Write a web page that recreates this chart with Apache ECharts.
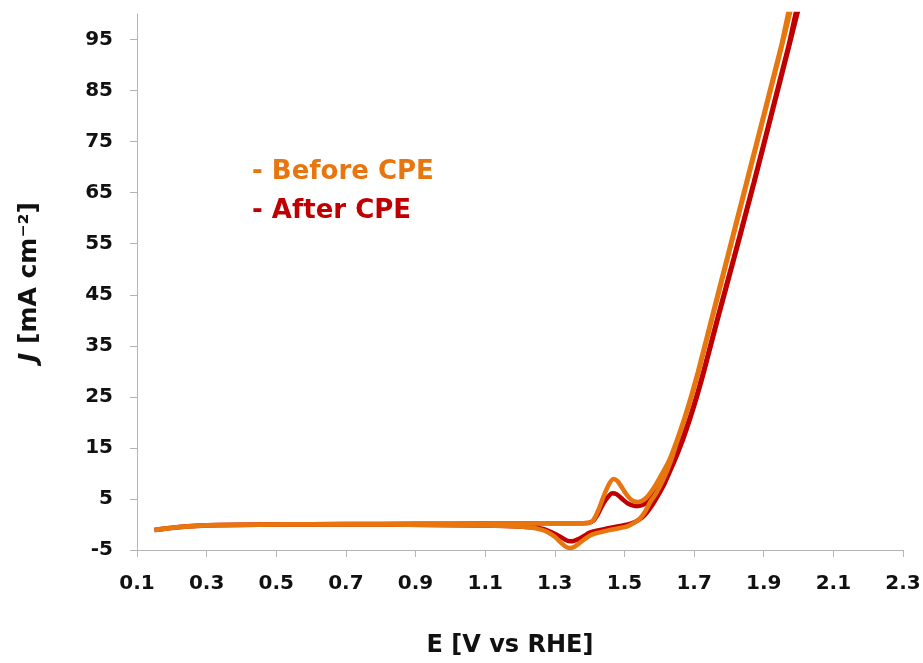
<!DOCTYPE html>
<html>
<head>
<meta charset="utf-8">
<script src="https://cdn.jsdelivr.net/npm/echarts@6/dist/echarts.min.js"></script>
<style>
  html, body { margin: 0; padding: 0; background: #fff; }
  #chart { width: 923px; height: 663px; }
</style>
</head>
<body>
<div id="chart"></div>
<script>
// CV curves, [E (V vs RHE), J (mA cm-2)], forward scan then reverse scan
const beforeCPE = [
  [0.15,-1.1],[0.18,-0.8],[0.22,-0.5],[0.27,-0.25],[0.33,-0.1],[0.45,0],[0.6,0.05],[0.8,0.1],
  [1.0,0.15],[1.2,0.2],[1.35,0.25],[1.395,0.3],[1.41,0.8],[1.425,2.8],[1.44,5.5],[1.455,7.8],
  [1.468,8.9],[1.48,8.5],[1.495,7.0],[1.51,5.5],[1.525,4.6],[1.54,4.4],[1.555,4.8],[1.57,5.8],
  [1.59,7.8],[1.61,10.2],[1.63,12.8],[1.65,16.4],[1.67,20.4],[1.69,24.8],[1.70,27.2],[1.711,29.9],
  [1.75,40.3],[1.795,52.3],[1.85,67],[1.9,80.3],[1.95,93.7],[1.988,103.8],
  [1.99,103.8],[1.952,93.7],[1.902,80.3],[1.852,67],[1.797,52.3],[1.752,40.3],[1.713,29.9],
  [1.702,27.2],[1.692,24.8],[1.672,20.4],[1.652,16.4],[1.632,12.2],[1.61,8.6],[1.59,6.0],
  [1.575,4.5],[1.56,2.6],[1.545,1.2],[1.53,0.4],
  [1.51,-0.3],[1.48,-0.8],[1.45,-1.2],[1.42,-1.7],[1.4,-2.2],[1.385,-2.9],[1.37,-3.7],
  [1.355,-4.4],[1.343,-4.6],[1.33,-4.3],[1.315,-3.4],[1.3,-2.4],[1.28,-1.5],[1.26,-1.0],
  [1.23,-0.6],[1.18,-0.35],[1.1,-0.2],[0.95,-0.1],[0.8,0],[0.6,0],[0.45,-0.05],[0.33,-0.15],
  [0.27,-0.3],[0.22,-0.55],[0.18,-0.85],[0.15,-1.1]
];
const afterCPE = [
  [0.15,-1.1],[0.18,-0.8],[0.22,-0.5],[0.27,-0.25],[0.33,-0.1],[0.45,0],[0.6,0.05],[0.8,0.1],
  [1.0,0.15],[1.2,0.2],[1.35,0.25],[1.395,0.3],[1.41,0.7],[1.425,2.2],[1.44,4.2],[1.455,5.6],
  [1.465,6.1],[1.478,5.9],[1.495,4.9],[1.51,4.1],[1.525,3.7],[1.54,3.6],[1.555,3.9],[1.57,4.6],
  [1.59,6.3],[1.61,8.4],[1.63,11.0],[1.65,14.1],[1.666,16.8],[1.687,20.8],[1.707,25.2],
  [1.717,27.6],[1.728,30.3],[1.768,40.7],[1.814,52.3],[1.871,67],[1.921,80.3],[1.971,93.7],
  [2.01,103.8],
  [2.012,103.8],[1.973,93.7],[1.923,80.3],[1.873,67],[1.816,52.3],[1.77,40.7],[1.73,30.3],
  [1.719,27.6],[1.709,25.2],[1.689,20.8],[1.668,16.6],[1.652,13.8],[1.632,10.6],[1.615,8],
  [1.595,5.5],[1.58,3.8],[1.565,2.4],[1.55,1.3],[1.53,0.5],
  [1.51,0],[1.48,-0.4],[1.45,-0.8],[1.42,-1.2],[1.4,-1.6],[1.385,-2.2],[1.37,-2.8],
  [1.355,-3.2],[1.345,-3.3],[1.333,-3.1],[1.318,-2.5],[1.3,-1.8],[1.28,-1.2],[1.26,-0.8],
  [1.23,-0.55],[1.18,-0.35],[1.1,-0.2],[0.95,-0.1],[0.8,0],[0.6,0],[0.45,-0.05],[0.33,-0.15],
  [0.27,-0.3],[0.22,-0.55],[0.18,-0.85],[0.15,-1.1]
];

const seriesNames = ['Before CPE', 'After CPE'];
const xTicks = [0.1,0.3,0.5,0.7,0.9,1.1,1.3,1.5,1.7,1.9,2.1,2.3];
const yTicks = [-5,5,15,25,35,45,55,65,75,85,95];

const ORANGE = '#E8760F';
const RED = '#C00000';
const FONT = 'DejaVu Sans';
const AXIS_GREY = '#B4B4B4';

const chart = echarts.init(document.getElementById('chart'));

const option = {
  backgroundColor: '#fff',
  animation: false,
  grid: {left: 137, right: 20, top: 14, bottom: 113, outerBoundsMode: 'none'},
  legend: {
    orient: 'vertical',
    left: 241,
    top: 154,
    icon: 'none',
    itemWidth: 1,
    itemGap: 13,
    selectedMode: false,
    formatter: '- {name}',
    textStyle: {fontFamily: FONT, fontWeight: 'bold', fontSize: 26},
    data: [
      {name: seriesNames[0], textStyle: {color: ORANGE}},
      {name: seriesNames[1], textStyle: {color: RED}}
    ]
  },
  xAxis: {
    type: 'value',
    min: 0.1,
    max: 2.3,
    name: 'E [V vs RHE]',
    nameLocation: 'middle',
    nameGap: 84,
    nameTextStyle: {fontFamily: FONT, fontWeight: 'bold', fontSize: 24, color: '#111', padding: [0, 20, 0, 0]},
    axisLine: {show: true, onZero: false, lineStyle: {color: AXIS_GREY, width: 1}},
    axisTick: {show: true, length: 7, lineStyle: {color: AXIS_GREY}, customValues: xTicks},
    axisLabel: {
      customValues: xTicks,
      margin: 24,
      fontFamily: FONT, fontWeight: 'bold', fontSize: 20, color: '#111',
      formatter: (v)=>v.toFixed(1)
    },
    splitLine: {show: false}
  },
  yAxis: {
    type: 'value',
    min: -5,
    max: 100,
    name: '{i|J} [mA cm⁻²]',
    nameLocation: 'middle',
    nameGap: 95,
    nameTextStyle: {
      fontFamily: FONT, fontWeight: 'bold', fontSize: 25, color: '#111',
      rich: {
        i: {fontFamily: FONT, fontWeight: 'bold', fontStyle: 'italic', fontSize: 25, color: '#111'}
      }
    },
    axisLine: {show: true, onZero: false, lineStyle: {color: AXIS_GREY, width: 1}},
    axisTick: {show: true, length: 7, lineStyle: {color: AXIS_GREY}, customValues: yTicks},
    axisLabel: {
      customValues: yTicks,
      margin: 24,
      fontFamily: FONT, fontWeight: 'bold', fontSize: 20, color: '#111'
    },
    splitLine: {show: false}
  },
  series: [
    {
      name: seriesNames[1],
      type: 'line',
      data: afterCPE,
      showSymbol: false,
      smooth: 0.25,
      color: RED,
      lineStyle: {width: 4.5, color: RED},
      clip: true
    },
    {
      name: seriesNames[0],
      type: 'line',
      data: beforeCPE,
      showSymbol: false,
      smooth: 0.25,
      color: ORANGE,
      lineStyle: {width: 4.5, color: ORANGE},
      clip: true
    }
  ]
};

chart.setOption(option);
</script>
</body>
</html>
